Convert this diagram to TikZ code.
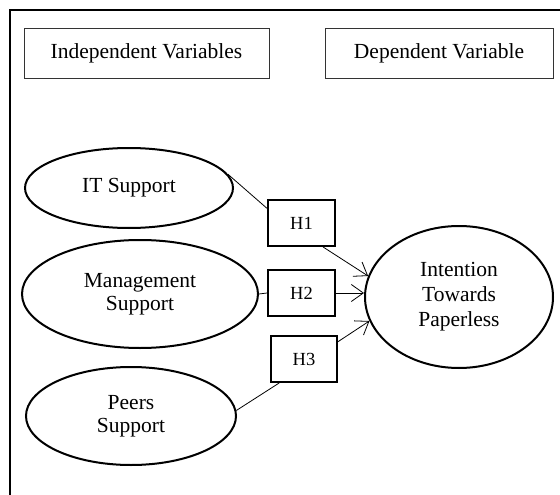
\documentclass[tikz,border=0pt]{standalone}
\usepackage{fontspec}
\setmainfont{Liberation Serif}
\usetikzlibrary{shapes.geometric,arrows.meta}
\begin{document}
\begin{tikzpicture}[x=1pt,y=-1pt,
  hdrbox/.style={draw=black!80,line width=0.9pt,minimum width=#1,minimum height=50pt,inner sep=0pt,
    font=\fontsize{21.5}{24}\selectfont},
  varell/.style={draw,ellipse,line width=2pt,inner sep=0pt,align=center,
    font=\fontsize{21.5}{23}\selectfont},
  hbox/.style={draw,line width=2pt,minimum width=66pt,minimum height=46pt,inner sep=0pt,
    font=\fontsize{18.5}{20}\selectfont},
  conn/.style={line width=0.8pt},
  arr/.style={line width=0.8pt,-{Straight Barb[length=12pt,width=17pt,line width=0.8pt]}}
]
\useasboundingbox (0,0) rectangle (560,495);
\draw[line width=1.6pt] (562,10) -- (10,10) -- (10,497);

\node[hdrbox=245pt] (indep) at (146.5,53) {Independent Variables};
\node[hdrbox=228pt] (dep) at (439,53) {Dependent Variable};

\node[varell,minimum width=208pt,minimum height=80pt] (it) at (129,188) {IT Support};
\node[varell,minimum width=236pt,minimum height=108pt] (mgmt) at (140,294) {Management\\Support};
\node[varell,minimum width=210pt,minimum height=98pt] (peers) at (131,416) {Peers\\Support};
\node[varell,minimum width=188pt,minimum height=142pt,font=\fontsize{21.5}{25}\selectfont] (int) at (459,297) {Intention\\Towards\\Paperless};

\node[hbox,minimum width=67pt] (h1) at (301.5,223) {H1};
\node[hbox,minimum width=67pt] (h2) at (301.5,293) {H2};
\node[hbox] (h3) at (304,359) {H3};

\draw[conn] (it.8) -- (h1.157);
\draw[arr] (h1.312) -- (int.167);
\draw[conn] (mgmt.east) -- (h2.west);
\draw[arr] (h2.east) -- (h2.east -| int.west);
\draw[conn] (peers.3) -- (h3.224);
\draw[arr] (h3.27) -- (int.195);
\end{tikzpicture}
\end{document}
